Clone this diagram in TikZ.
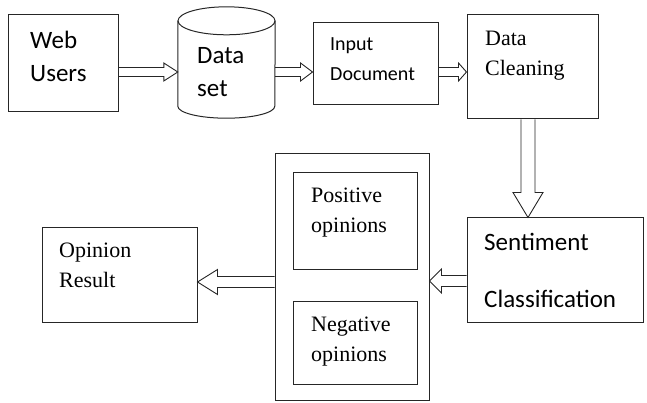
\documentclass[tikz,border=0pt]{standalone}
\usepackage{fontspec}
\setmainfont{Liberation Serif}
\setsansfont{Carlito}
\usetikzlibrary{calc}

\tikzset{
  box/.style={draw=black!85, line width=1pt, inner sep=0pt},
  serif/.style={font=\fontsize{22}{30}\selectfont, align=left, anchor=north west, inner sep=0pt},
  sans/.style={font=\sffamily\fontsize{25}{33}\selectfont, align=left, anchor=north west, inner sep=0pt},
  % hollow block arrow: shaft half width, head half width, head length
  fat arrow/.style n args={3}{draw=black!85, line width=0.9pt, to path={
    let \p1=(\tikztostart), \p2=(\tikztotarget),
        \n1={atan2(\y2-\y1,\x2-\x1)}, \n2={veclen(\x2-\x1,\y2-\y1)-#3} in
    ($(\p1)+(\n1+90:#1)$) -- ++(\n1:\n2) -- ++(\n1+90:#2-#1) -- (\p2)
    -- ($(\p1)+(\n1:\n2)+(\n1-90:#2)$) -- ++(\n1+90:#2-#1) -- ($(\p1)+(\n1-90:#1)$)
  }},
}

\begin{document}
\begin{tikzpicture}[x=1pt, y=-1pt]
  \useasboundingbox (0,0) rectangle (647,403);

  % boxes
  \foreach \name/\pos/\w/\h in {web/{63,63.5}/110/97, input/{375.5,64}/125/82,
      clean/{532.5,67}/131/104, senti/{555,270}/176/104, group/{352,277}/154/246,
      pos/{355,221}/124/96, neg/{355,342.5}/124/83, result/{119.5,275}/155/94}
    \node[box, minimum width=\w pt, minimum height=\h pt] (\name) at (\pos) {};

  % data set drum
  \node[inner sep=0pt, minimum width=97pt, minimum height=111pt] (dataset) at (226.5,62.5) {};
  \draw[box] ([yshift=-14pt]dataset.north) ellipse [x radius=48.5, y radius=14];
  \draw[box] ([yshift=-14pt]dataset.north west) -- ([yshift=12pt]dataset.south west)
    arc[start angle=180, end angle=0, x radius=48.5, y radius=12] -- ([yshift=-14pt]dataset.north east);

  % texts
  \node[sans] (webtxt) at (30,31) {Web\\Users};
  \node[sans] (datatxt) at (197,47) {Data\\set};
  \node[sans, font=\sffamily\fontsize{20}{30}\selectfont] (inputtxt) at (330,37) {Input\\Document};
  \node[serif] (cleantxt) at (485,31) {Data\\Cleaning};
  \node[sans] (sentitxt) at (484,233) {Sentiment\\[24pt]Classification};
  \node[serif] (postxt) at (311,188) {Positive\\opinions};
  \node[serif] (negtxt) at (311,317) {Negative\\opinions};
  \node[serif] (resulttxt) at (59,243) {Opinion\\Result};

  % arrows
  \draw[fat arrow={4.5pt}{9pt}{14pt}] ([yshift=-8.5pt]web.east) to ([yshift=-9.5pt]dataset.west);
  \draw[fat arrow={4.5pt}{9pt}{12pt}] ([yshift=-9.5pt]dataset.east) to ([yshift=-8pt]input.west);
  \draw[fat arrow={4.5pt}{9pt}{8pt}] ([yshift=-8pt]input.east) to ([yshift=-5pt]clean.west);
  \draw[fat arrow={7pt}{15pt}{25pt}] ([xshift=-4.5pt]clean.south) to ([xshift=-27pt]senti.north);
  \draw[fat arrow={5.5pt}{12pt}{12pt}] ([yshift=-11pt]senti.west) to ([yshift=-4pt]group.east);
  \draw[fat arrow={5.5pt}{12.5pt}{20pt}] ([yshift=-5pt]group.west) to ([yshift=-7pt]result.east);
\end{tikzpicture}
\end{document}
